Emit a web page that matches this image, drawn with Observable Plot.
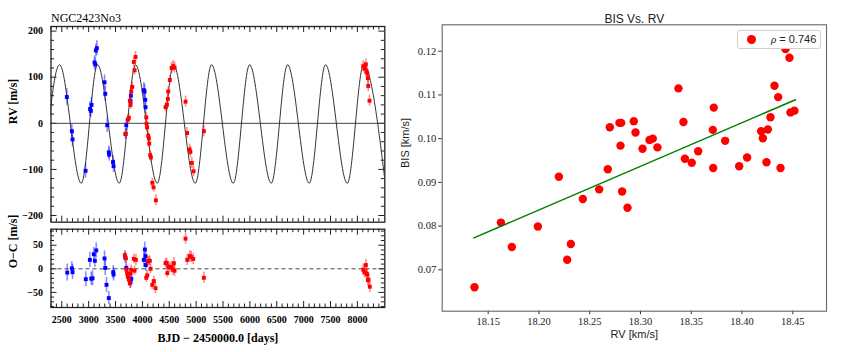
<!DOCTYPE html>
<html><head><meta charset="utf-8">
<script src="https://cdn.jsdelivr.net/npm/d3@7"></script>
<script src="https://cdn.jsdelivr.net/npm/@observablehq/plot@0.6"></script>
<style>
body{margin:0;background:#fff;}
#wrap{position:relative;width:845px;height:352px;overflow:hidden;background:#fff;}
#legend{position:absolute;left:737px;top:30px;width:82px;height:17px;border:1px solid #d0d0d0;border-radius:3px;background:#fff;font:11px "Liberation Sans",Arial,sans-serif;color:#222;}
#legend .dot{position:absolute;left:9px;top:4px;width:9px;height:9px;border-radius:50%;background:#ff0000;}
#legend .lab{position:absolute;left:33px;top:2px;white-space:nowrap;}
</style></head>
<body><div id="wrap"></div>
<script>
// ---------- Left panel: RV time series ----------
const blueDays = [2595, 2688, 2701, 2943, 3027, 3041, 3054, 3110, 3123, 3134, 3153, 3296, 3309, 3346, 3376, 3382, 3454, 3464, 3687, 3700, 3780, 3786, 4027, 4040, 4053, 4059];
const blueRV   = [57, -17, -35, -103, 31, 27, 40, 132, 128, 158, 163, 89, 64, -4, -63, -68, -84, -93, -23, -4, 48, 60, 72, 69, 51, 35];
const blueErr  = [18, 14, 16, 16, 16, 14, 16, 14, 14, 14, 16, 16, 16, 16, 14, 14, 14, 14, 12, 12, 14, 14, 16, 16, 14, 14];

const redDays = [3687, 3730, 3748, 3767, 3780, 3793, 3812, 3841, 3854, 3873, 4072, 4078, 4087, 4109, 4121, 4128, 4146, 4158, 4184, 4208, 4251, 4431, 4456, 4474, 4481, 4511, 4543, 4574, 4599, 4803, 4831, 4878, 4893, 4920, 4952, 5144, 8109, 8133, 8158, 8171, 8186, 8195, 8202, 8226];
const redRV   = [-23, 8, 12, 49, 40, 69, 79, 133, 115, 144, 13, -1, -9, -27, -33, -44, -69, -74, -129, -139, -167, 35, 40, 53, 69, 94, 120, 124, 121, 47, -21, -57, -62, -86, -104, -17, 124, 119, 128, 112, 108, 98, 81, 49];
const redErr  = [10, 10, 10, 10, 10, 10, 10, 10, 10, 12, 10, 10, 10, 10, 10, 10, 10, 10, 10, 10, 12, 10, 10, 10, 10, 10, 12, 12, 12, 12, 12, 12, 12, 12, 12, 12, 12, 12, 12, 12, 12, 12, 12, 12];

const ocBlueDays = [2602, 2688, 2701, 2948, 3023, 3049, 3073, 3097, 3116, 3142, 3296, 3309, 3333, 3376, 3458, 3464, 3681, 3700, 3780, 3793, 4027, 4046, 4059, 4065];
const ocBlue     = [-8, 1, -7, -22, 19, -21, -20, 31, 17, 39, 22, 2, -34, -62, -7, -12, 24, 2, -28, -21, 19, 41, 27, 8];
const ocBlueErr  = [18, 14, 16, 16, 16, 14, 16, 14, 14, 16, 16, 16, 16, 14, 14, 14, 12, 12, 14, 14, 16, 16, 14, 14];

const ocRedDays = [3674, 3693, 3706, 3718, 3730, 3748, 3767, 3780, 3793, 3841, 3854, 3879, 4072, 4091, 4102, 4121, 4139, 4152, 4184, 4214, 4245, 4431, 4450, 4463, 4481, 4506, 4537, 4574, 4586, 4599, 4803, 4835, 4883, 4909, 4946, 5144, 8109, 8133, 8158, 8171, 8184, 8195, 8207, 8231];
const ocRed     = [29, 22, -2, -10, -17, -23, -31, -10, -2, 21, -4, 19, -19, -14, 16, 17, 17, 0, -34, -26, -41, 12, 13, -9, 5, 3, 4, -2, 12, -4, 64, 19, 27, 25, 21, -19, -2, -7, 8, -10, -12, -24, -23, -38];
const ocRedErr  = [10, 10, 10, 10, 10, 10, 10, 10, 10, 10, 10, 12, 10, 10, 10, 10, 10, 10, 10, 10, 12, 10, 10, 10, 10, 10, 12, 12, 12, 12, 12, 12, 12, 12, 12, 12, 12, 12, 12, 12, 12, 12, 12, 12];

// Keplerian model extrema
const modelDays = [2156, 2459, 2863, 3166, 3570, 3873, 4277, 4580, 4984, 5287, 5691, 5994, 6398, 6701, 7105, 7408, 7812, 8115, 8519];
const modelRV   = [-130, 127, -130, 127, -130, 127, -130, 127, -130, 127, -130, 127, -130, 127, -130, 127, -130, 127, -130];

const timeTicks = [2500, 3000, 3500, 4000, 4500, 5000, 5500, 6000, 6500, 7000, 7500, 8000];
const rvTicks = [-200, -100, 0, 100, 200];
const ocTicks = [-50, 0, 50];

// ---------- Right panel: BIS vs RV ----------
const rvKms = [18.1365, 18.1625, 18.1733, 18.1989, 18.2196, 18.2278, 18.2314, 18.2432, 18.2593, 18.2678, 18.2698, 18.2793, 18.2810, 18.2803, 18.2819, 18.2872, 18.2934, 18.2951, 18.3020, 18.3089, 18.3121, 18.3167, 18.3374, 18.3423, 18.3437, 18.3505, 18.3568, 18.3712, 18.3722, 18.3716, 18.3834, 18.3972, 18.4050, 18.4188, 18.4205, 18.4254, 18.4241, 18.4280, 18.4320, 18.4356, 18.4379, 18.4428, 18.4467, 18.4477, 18.4516];
const bisKms = [0.0660, 0.0808, 0.0752, 0.0799, 0.0913, 0.0723, 0.0759, 0.0862, 0.0884, 0.0930, 0.1026, 0.1036, 0.1036, 0.0984, 0.0879, 0.0842, 0.1040, 0.1014, 0.0977, 0.0997, 0.1000, 0.0980, 0.1115, 0.1038, 0.0954, 0.0945, 0.0971, 0.1020, 0.1071, 0.0933, 0.0995, 0.0937, 0.0957, 0.1017, 0.1001, 0.1021, 0.0946, 0.1049, 0.1121, 0.1095, 0.0933, 0.1205, 0.1185, 0.1060, 0.1064];
const fitRV  = [18.1359, 18.4526];
const fitBIS = [0.0773, 0.1089];
const rvKmsTicks = [18.15, 18.20, 18.25, 18.30, 18.35, 18.40, 18.45];
const bisTicks = [0.07, 0.08, 0.09, 0.10, 0.11, 0.12];
const rho = "0.746";

// ---------- build ----------
const wrap = document.getElementById("wrap");
function place(el, left, top) {
  el.style.position = "absolute"; el.style.left = left + "px"; el.style.top = top + "px";
  wrap.appendChild(el);
}
const serif = "Liberation Serif, Times New Roman, serif";
const sans = "Liberation Sans, Arial, sans-serif";
const zip3 = (a, b, c) => a.map((d, i) => ({t: d, v: b[i], e: c[i]}));
const blue = zip3(blueDays, blueRV, blueErr);
const red = zip3(redDays, redRV, redErr);
const ocB = zip3(ocBlueDays, ocBlue, ocBlueErr);
const ocR = zip3(ocRedDays, ocRed, ocRedErr);
const model = modelDays.map((d, i) => ({t: d, v: modelRV[i]}));

const xDom = [2300, 8510];
const xMinor = d3.range(2300, 8600, 100).filter(d => d % 500 !== 0);

function inX(vals, len, fh, fw) {
  return [
    Plot.tickX(vals, {x: d => d, insetTop: fh - len, stroke: "#222", strokeWidth: 1}),
    Plot.tickX(vals, {x: d => d, insetBottom: fh - len, stroke: "#222", strokeWidth: 1})
  ];
}
function inY(vals, len, fw) {
  return [
    Plot.tickY(vals, {y: d => d, insetRight: fw - len, stroke: "#222", strokeWidth: 1}),
    Plot.tickY(vals, {y: d => d, insetLeft: fw - len, stroke: "#222", strokeWidth: 1})
  ];
}
function series(data, color) {
  return [
    Plot.ruleX(data, {x: "t", y1: d => d.v - d.e, y2: d => d.v + d.e, stroke: color, strokeOpacity: 0.45, strokeWidth: 1.6}),
    Plot.dot(data, {x: "t", y: "v", symbol: "square", r: 2.2, fill: color, stroke: "none"})
  ];
}

// top-left
{
  const W = 400, H = 225, mL = 50.5, mR = 15.7, mT = 26, mB = 3.3;
  const fw = W - mL - mR, fh = H - mT - mB;
  const p = Plot.plot({
    width: W, height: H, marginLeft: mL, marginRight: mR, marginTop: mT, marginBottom: mB,
    x: {domain: xDom, axis: null, label: null},
    y: {domain: [-214.5, 210], label: null},
    style: {fontFamily: serif, fontSize: "10px", color: "#000", background: "transparent", overflow: "visible"},
    marks: [
      ...inX(timeTicks, 6, fh), ...inX(xMinor, 3.5, fh),
      ...inY(rvTicks, 6, fw), ...inY(d3.range(-200, 201, 20).filter(d => d % 100 !== 0), 3.5, fw),
      Plot.ruleY([0], {stroke: "#444", strokeWidth: 1}),
      Plot.line(model, {x: "t", y: "v", curve: "monotone-x", stroke: "#333", strokeWidth: 1, clip: true}),
      ...series(blue, "#0000ff"),
      ...series(red, "#ff0000"),
      Plot.axisY(rvTicks, {anchor: "left", tickSize: 0, tickPadding: 8, fontWeight: "bold", fontSize: 10, fontFamily: serif, label: null}),
      Plot.text(["RV [m/s]"], {text: d => d, frameAnchor: "left", dx: -37.5, rotate: -90, fontWeight: "bold", fontSize: 12, fontFamily: serif}),
      Plot.text(["NGC2423No3"], {text: d => d, frameAnchor: "top-left", dy: -4.5, textAnchor: "start", lineAnchor: "bottom", fontSize: 12, fontFamily: serif}),
      Plot.frame({stroke: "#222", strokeWidth: 1.3})
    ]
  });
  place(p, 0, 0);
}
// bottom-left
{
  const W = 400, H = 127, mL = 50.5, mR = 15.7, mT = 3.7, mB = 45;
  const fw = W - mL - mR, fh = H - mT - mB;
  const p = Plot.plot({
    width: W, height: H, marginLeft: mL, marginRight: mR, marginTop: mT, marginBottom: mB,
    x: {domain: xDom, label: null},
    y: {domain: [-82, 84], label: null},
    style: {fontFamily: serif, fontSize: "10px", color: "#000", background: "transparent", overflow: "visible"},
    marks: [
      ...inX(timeTicks, 6, fh), ...inX(xMinor, 3.5, fh),
      ...inY(ocTicks, 6, fw), ...inY(d3.range(-80, 81, 10).filter(d => d % 50 !== 0), 3.5, fw),
      Plot.ruleY([0], {stroke: "#444", strokeWidth: 1, strokeDasharray: "4,3"}),
      ...series(ocB, "#0000ff"),
      ...series(ocR, "#ff0000"),
      Plot.axisY(ocTicks, {anchor: "left", tickSize: 0, tickPadding: 8, fontWeight: "bold", fontSize: 10, fontFamily: serif, label: null}),
      Plot.axisX(timeTicks, {anchor: "bottom", tickSize: 0, tickPadding: 8, tickFormat: d => String(d), fontWeight: "bold", fontSize: 10, fontFamily: serif, label: null}),
      Plot.text(["O\u2212C [m/s]"], {text: d => d, frameAnchor: "left", dx: -37.5, rotate: -90, fontWeight: "bold", fontSize: 12, fontFamily: serif}),
      Plot.text(["BJD \u2212 2450000.0 [days]"], {text: d => d, frameAnchor: "bottom", dy: 34.7, fontWeight: "bold", fontSize: 12, fontFamily: serif}),
      Plot.frame({stroke: "#222", strokeWidth: 1.3})
    ]
  });
  place(p, 0, 225);
}
// right
{
  const W = 450, H = 352, mL = 46.7, mR = 19, mT = 24.3, mB = 41.3;
  const pts = rvKms.map((d, i) => ({x: d, y: bisKms[i]}));
  const fit = fitRV.map((d, i) => ({x: d, y: fitBIS[i]}));
  const p = Plot.plot({
    width: W, height: H, marginLeft: mL, marginRight: mR, marginTop: mT, marginBottom: mB,
    x: {domain: [18.1047, 18.4832], label: null},
    y: {domain: [0.06053, 0.12604], label: null},
    style: {fontFamily: serif, fontSize: "10.5px", color: "#222", background: "transparent", overflow: "visible"},
    marks: [
      Plot.dot(pts, {x: "x", y: "y", r: 4.2, fill: "#ff0000", stroke: "none"}),
      Plot.line(fit, {x: "x", y: "y", stroke: "#008000", strokeWidth: 1.5}),
      Plot.axisX(rvKmsTicks, {anchor: "bottom", tickSize: 3.5, tickPadding: 3, tickFormat: d3.format(".2f"), fontSize: 10.5, fontFamily: serif, stroke: "#333", label: null}),
      Plot.axisY(bisTicks, {anchor: "left", tickSize: 3.5, tickPadding: 2.5, tickFormat: d3.format(".2f"), fontSize: 10.5, fontFamily: serif, stroke: "#333", label: null}),
      Plot.text(["BIS Vs. RV"], {text: d => d, frameAnchor: "top", dy: -10.3, fontSize: 12, fontFamily: sans}),
      Plot.text(["RV [km/s]"], {text: d => d, frameAnchor: "bottom", dy: 26.3, fontSize: 11, fontFamily: sans}),
      Plot.text(["BIS [km/s]"], {text: d => d, frameAnchor: "left", dx: -36.7, rotate: -90, fontSize: 11, fontFamily: sans}),
      Plot.frame({stroke: "#666", strokeWidth: 1.1})
    ]
  });
  place(p, 395, 0);
}
// legend
const lg = document.createElement("div");
lg.id = "legend";
lg.innerHTML = '<span class="dot"></span><span class="lab"><i style="font-family:Liberation Serif,serif">\u03C1</i> = ' + rho + '</span>';
wrap.appendChild(lg);
</script>
</body></html>
